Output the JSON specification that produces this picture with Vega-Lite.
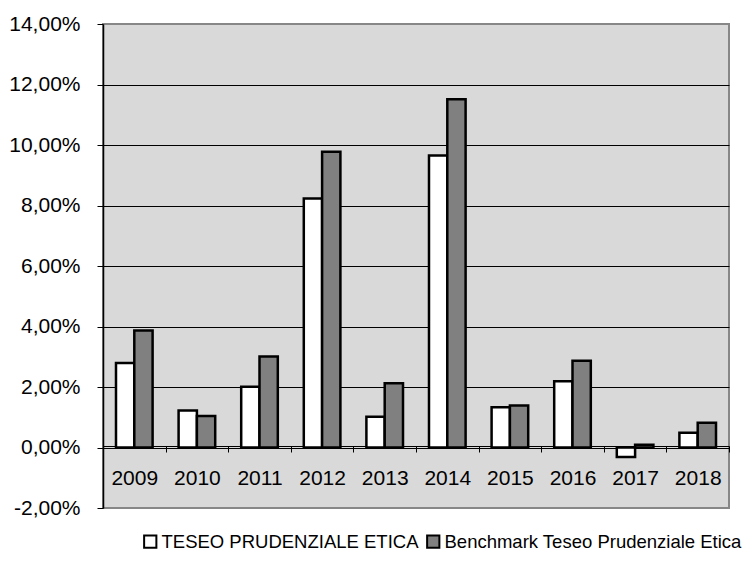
{
  "$schema": "https://vega.github.io/schema/vega-lite/v6.json",
  "width": 626,
  "height": 484,
  "autosize": "none",
  "padding": {"left": 103, "top": 24, "right": 25, "bottom": 53},
  "background": "white",
  "data": {
    "values": [
      {"year": "2009", "series": "TESEO PRUDENZIALE ETICA", "value": 0.0279},
      {"year": "2009", "series": "Benchmark Teseo Prudenziale Etica", "value": 0.0387},
      {"year": "2010", "series": "TESEO PRUDENZIALE ETICA", "value": 0.0122},
      {"year": "2010", "series": "Benchmark Teseo Prudenziale Etica", "value": 0.0104},
      {"year": "2011", "series": "TESEO PRUDENZIALE ETICA", "value": 0.0201},
      {"year": "2011", "series": "Benchmark Teseo Prudenziale Etica", "value": 0.0301},
      {"year": "2012", "series": "TESEO PRUDENZIALE ETICA", "value": 0.0823},
      {"year": "2012", "series": "Benchmark Teseo Prudenziale Etica", "value": 0.0978},
      {"year": "2013", "series": "TESEO PRUDENZIALE ETICA", "value": 0.0102},
      {"year": "2013", "series": "Benchmark Teseo Prudenziale Etica", "value": 0.0212},
      {"year": "2014", "series": "TESEO PRUDENZIALE ETICA", "value": 0.0965},
      {"year": "2014", "series": "Benchmark Teseo Prudenziale Etica", "value": 0.1151},
      {"year": "2015", "series": "TESEO PRUDENZIALE ETICA", "value": 0.0133},
      {"year": "2015", "series": "Benchmark Teseo Prudenziale Etica", "value": 0.0139},
      {"year": "2016", "series": "TESEO PRUDENZIALE ETICA", "value": 0.0219},
      {"year": "2016", "series": "Benchmark Teseo Prudenziale Etica", "value": 0.0287},
      {"year": "2017", "series": "TESEO PRUDENZIALE ETICA", "value": -0.0031},
      {"year": "2017", "series": "Benchmark Teseo Prudenziale Etica", "value": 0.0009},
      {"year": "2018", "series": "TESEO PRUDENZIALE ETICA", "value": 0.0049},
      {"year": "2018", "series": "Benchmark Teseo Prudenziale Etica", "value": 0.0082}
    ]
  },
  "mark": {"type": "bar", "stroke": "black", "strokeWidth": 2.5},
  "encoding": {
    "x": {
      "field": "year",
      "type": "nominal",
      "scale": {"paddingInner": 0, "paddingOuter": 0},
      "axis": {
        "orient": "bottom",
        "offset": -62,
        "tickBand": "extent",
        "title": null,
        "labelAngle": 0,
        "domainColor": "black",
        "domainWidth": 1,
        "tickColor": "black",
        "tickSize": 6,
        "labelPadding": 15,
        "labelFont": "Liberation Sans",
        "labelFontSize": 21,
        "labelColor": "black",
        "grid": false
      }
    },
    "xOffset": {
      "field": "series",
      "type": "nominal",
      "sort": ["TESEO PRUDENZIALE ETICA", "Benchmark Teseo Prudenziale Etica"],
      "scale": {"paddingInner": 0, "paddingOuter": 0.71}
    },
    "y": {
      "field": "value",
      "type": "quantitative",
      "scale": {"domain": [-0.02, 0.14], "nice": false, "zero": false},
      "axis": {
        "title": null,
        "values": [-0.02, 0, 0.02, 0.04, 0.06, 0.08, 0.1, 0.12, 0.14],
        "labelExpr": "replace(replace(format(datum.value, '.2%'), '.', ','), '\u2212', '-')",
        "grid": true,
        "gridColor": {"condition": {"test": "datum.value > 0.13 || datum.value < -0.01", "value": "transparent"}, "value": "black"},
        "gridWidth": 1,
        "domainColor": "black",
        "domainWidth": 1.5,
        "tickColor": "black",
        "tickSize": 6,
        "labelPadding": 17,
        "labelFont": "Liberation Sans",
        "labelFontSize": 21,
        "labelColor": "black"
      }
    },
    "color": {
      "field": "series",
      "type": "nominal",
      "sort": ["TESEO PRUDENZIALE ETICA", "Benchmark Teseo Prudenziale Etica"],
      "scale": {"domain": ["TESEO PRUDENZIALE ETICA", "Benchmark Teseo Prudenziale Etica"], "range": ["white", "#808080"]},
      "legend": {
        "title": null,
        "orient": "none",
        "legendX": 38,
        "legendY": 508,
        "padding": 0,
        "direction": "horizontal",
        "symbolType": "square",
        "symbolSize": 150,
        "symbolStrokeColor": "black",
        "symbolStrokeWidth": 2,
        "symbolOpacity": 1,
        "labelFont": "Liberation Sans",
        "labelFontSize": 18.5,
        "labelColor": "black",
        "labelOffset": 2,
        "columnPadding": 4,
        "labelLimit": 400
      }
    }
  },
  "config": {
    "view": {"fill": "#d9d9d9", "stroke": "#878787", "strokeWidth": 2}
  }
}
